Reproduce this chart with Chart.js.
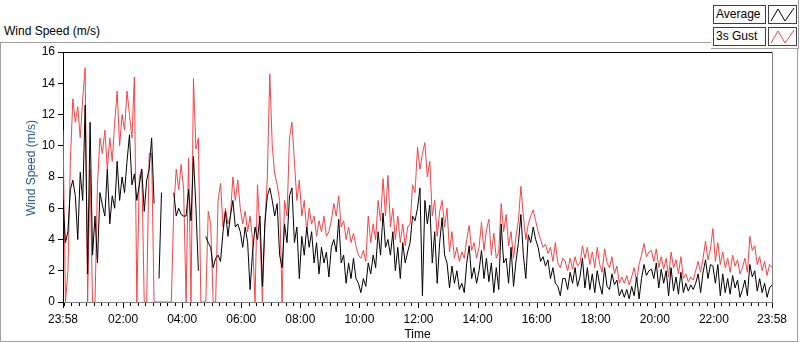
<!DOCTYPE html>
<html>
<head>
<meta charset="utf-8">
<script src="https://cdn.jsdelivr.net/npm/chart.js@4.4.0/dist/chart.umd.min.js"></script>
<style>
body { margin: 0; background: #fff; font-family: "Liberation Sans", Arial, sans-serif; }
#wrap { position: relative; width: 800px; height: 342px; overflow: hidden; }
#frame { position: absolute; left: 0; top: 42px; width: 798px; height: 300px; box-sizing: border-box; border: 1px solid #a0a0a0; }
#title { position: absolute; left: 4px; top: 24px; font-size: 12px; color: #000; }
#ytitle { position: absolute; left: 31px; top: 168px; font-size: 12px; color: #25588a; white-space: nowrap; transform: translate(-50%, -50%) rotate(-90deg); }
#legend { position: absolute; left: 711px; top: 0; width: 88px; height: 49px; box-sizing: border-box; background: #fff; border-right: 1px solid #a0a0a0; border-bottom: 1px solid #a0a0a0; }
.lbl { position: absolute; left: 2px; width: 53px; height: 19px; box-sizing: border-box; border: 1px solid #404040; font-size: 12px; line-height: 17px; padding-left: 2px; background: #fff; }
.ico { position: absolute; left: 57px; width: 29px; height: 19px; box-sizing: border-box; border: 1px solid #404040; background: #fff; }
canvas { position: absolute; left: 0; top: 0; }
</style>
</head>
<body>
<div id="wrap">
  <div id="frame"></div>
  <div id="title">Wind Speed (m/s)</div>
  <div id="legend">
    <div class="lbl" style="top:5px">Average</div>
    <div class="ico" style="top:5px"><svg width="27" height="17"><polyline points="2,15 9,3 16,15 25,2" fill="none" stroke="#000" stroke-width="1"/></svg></div>
    <div class="lbl" style="top:27px">3s Gust</div>
    <div class="ico" style="top:27px"><svg width="27" height="17"><polyline points="2,15 9,3 16,15 25,2" fill="none" stroke="#ff4040" stroke-width="1"/></svg></div>
  </div>
  <canvas id="chart" width="800" height="342"></canvas>
  <div id="ytitle">Wind Speed (m/s)</div>
</div>
<script>
// one sample every 5 minutes, starting 23:58
var sampleStep = 5
var startMinute = 23 * 60 + 58

// 3s gust (m/s), one row per hour
var gust = [
    11, 0, 2, 9, 13, 11.5, 12.5, 10.5, 13, 15, 0, 8.5,
    0, 0, 7.5, 10.5, 9.5, 11, 8.5, 10.5, 9, 11.5, 13.5, 10,
    12, 11, 13.5, 12, 10.5, 14.4, 0, 8, 8.5, 0, 0, 9.5,
    9.5, 0, 0, 0, 0, 0, 0, 0, 0, 6, 8.5, 7.2,
    8.8, 7.2, 0, 9.2, 0, 14.3, 9.8, 10.5, 0, 0, 0, 5.8,
    5, 0, 0, 6.5, 7.6, 4.8, 6, 5, 5.5, 8, 6.5, 7.8,
    6, 5, 5.8, 4.5, 5.5, 4, 0, 7.5, 4.5, 0, 5, 8,
    14.6, 10, 8.2, 7.5, 6.5, 0, 6.5, 5.5, 10.5, 11.5, 9, 6.5,
    7.8, 5.5, 6.5, 4.5, 6, 5, 5.5, 4.2, 5.2, 4.5, 5.5, 4.2,
    4.5, 5.2, 6.3, 5.5, 6.8, 4.8, 5.2, 4, 4.8, 3.8, 4.4, 3.6,
    3, 2.8, 3.3, 2.6, 5.5, 3.8, 5, 4, 6.5, 5.2, 7.9, 5.5,
    8.1, 4.8, 6, 4, 5.5, 3.8, 5, 3.6, 4.8, 5, 7.5, 7,
    9.9, 8.5, 9.5, 10.2, 8, 9, 5.5, 6.5, 4.2, 5.8, 6.5, 4.8,
    6, 3.2, 4.5, 2.8, 3.5, 2.6, 3.2, 2.8, 4, 4.9, 3.3, 3.8,
    2.8, 3.5, 5.1, 3.3, 4.6, 5.3, 3, 4.4, 2.8, 3.2, 6.3, 4.5,
    5.6, 3.6, 4.5, 2.8, 4.2, 5.2, 7.4, 5.5, 4, 5, 5.5, 5.9,
    5.2, 4.5, 4, 3.5, 3.7, 3.1, 3.5, 2.6, 3.8, 2.5, 2.2, 2.8,
    2.6, 2, 2.8, 2.1, 2.9, 2.3, 2.5, 3.6, 2.8, 3.5, 2.4, 3.2,
    2.2, 3.5, 2.4, 1.9, 3.4, 2.5, 2.2, 2.9, 1.8, 2.3, 1.2, 1.6,
    1.2, 1.7, 1.1, 1.6, 2.2, 1.3, 2.4, 3, 3.75, 2.9, 3.2, 3.3,
    2.6, 3.4, 2.2, 2.9, 2.1, 2.8, 1.6, 3.2, 2.2, 2.7, 1.8, 2.9,
    1.5, 1.8, 1.3, 1.6, 1.4, 2, 2.6, 1.9, 2.8, 3.9, 2.7, 3.4,
    4.7, 2.6, 3.8, 2.4, 3.2, 2.2, 2.8, 1.9, 3, 2.3, 2.7, 1.8,
    2.2, 2.8, 1.9, 4.2, 3.3, 3.6, 2.4, 2.9, 2, 2.6, 1.7, 2.4, 2.2
]

// average (m/s), null = no reading
var average = [
    6.5, 3.8, 4.5, 7.2, 7.8, 6.8, 4, 8.3, 6.5, 12.6, 1.8, 11.5,
    3, 5.5, 2.5, 7, 6.2, 5.5, 8.5, 5, 6.8, 6, 9, 6.5,
    8, 7, 9, 10.7, 7.5, 8.2, 6.5, 7.5, 8.5, 5.8, 7.8, 8.5,
    10.5, 6.3, null, 1.5, 7, null, null, null, null, 7, 5.5, 6,
    5.6, 5.5, 5.5, 7.2, 5.2, 9.3, 6, 2, null, null, 4.2, 3.8,
    3.5, 2.2, 2.8, 3, 2.6, 4.5, 5.8, 4.2, 5.5, 6.5, 4.8, 5,
    4.5, 3.5, 4.8, 3.8, 0.8, 3.2, 4.8, 4, 5.5, 1, 5, 6.8,
    7.3, 6.5, 5.5, 6.3, 3, 2.2, 5, 3.8, 6.8, 7.3, 3.8, 4.8,
    1.5, 4.2, 3, 4.8, 3.5, 4.5, 2.5, 3.8, 1.8, 3.5, 2.5, 3.2,
    1.6, 3.5, 4, 3.2, 5.3, 2.5, 3, 1.2, 2.5, 1.5, 2.8, 1.5,
    1.2, 0.6, 1.5, 1, 2.5, 1.8, 3, 2.2, 4.5, 3, 5.7, 3.5,
    4, 3, 4.5, 2, 3.5, 1.5, 3.8, 2.5, 3.2, 3.8, 5.5, 5.2,
    6, 7.3, 0.4, 6.5, 5, 6.2, 2.5, 4.5, 1.2, 3.8, 5.4, 3,
    2.5, 0.9, 2.3, 1.2, 2, 0.8, 1.2, 0.6, 2.5, 3.6, 1.5, 2.2,
    1.2, 2, 3.3, 1.5, 2.8, 1.3, 2.5, 0.6, 2.2, 0.8, 5, 2.5,
    2.8, 1.2, 3.5, 1, 2.6, 3.8, 5.6, 3, 1.5, 4.3, 3.8, 4.8,
    4, 3.5, 2.6, 2.9, 2.3, 2.7, 1.5, 2.2, 1.2, 1, 0.4, 1.5,
    1.5, 0.8, 1.9, 1.2, 2.2, 1, 1.6, 2.8, 0.9, 2.2, 0.8, 1.8,
    0.6, 2, 1.1, 0.5, 2.2, 1, 0.8, 1.8, 1.1, 1.4, 0.4, 0.8,
    0.3, 0.8, 0.2, 1, 0.4, 1.6, 0.2, 1.5, 2.4, 1.7, 2, 2.1,
    1.5, 2.5, 0.9, 2.1, 1.2, 2, 0.4, 2.2, 0.7, 1.6, 0.5, 1.9,
    0.6, 1.2, 0.7, 1.1, 0.8, 1.2, 1.8, 0.6, 1.9, 2.7, 1.5, 2.4,
    2.3, 1.2, 2.4, 0.4, 1.8, 0.6, 1.5, 0.5, 1.7, 0.9, 1.4, 0.3,
    0.8, 1.4, 0.4, 2.4, 1.6, 2, 0.7, 1.5, 0.6, 1.2, 0.3, 0.9, 1.1
]

// labelled ticks, minutes after 23:58
var tickMinutes = [0, 122, 242, 362, 482, 602, 722, 842, 962, 1082, 1202, 1322, 1440]
var minorStep = 15
var yTicks = [0, 2, 4, 6, 8, 10, 12, 14, 16]

function to_points(arr) {
    return arr.map(function(v, i) {
        return { x: i * sampleStep, y: v }
    })
}

function time_label(m) {
    var t = (startMinute + m) % 1440
    var h = Math.floor(t / 60)
    var mm = t % 60
    return (h < 10 ? '0' : '') + h + ':' + (mm < 10 ? '0' : '') + mm
}

var frameLines = {
    id: 'frameLines',
    afterDraw: function(chart) {
        var ctx = chart.ctx
        var a = chart.chartArea
        var xs = chart.scales.x
        ctx.save()
        ctx.lineWidth = 1
        ctx.strokeStyle = '#000'
        ctx.beginPath()
        ctx.moveTo(a.left, Math.round(a.top) + 0.5)
        ctx.lineTo(a.right, Math.round(a.top) + 0.5)
        ctx.stroke()
        ctx.strokeStyle = '#808080'
        ctx.beginPath()
        ctx.moveTo(Math.round(a.right) + 0.5, a.top)
        ctx.lineTo(Math.round(a.right) + 0.5, a.bottom + 1)
        ctx.stroke()

        // x tick marks: minor every 15 min, major at labels
        ctx.strokeStyle = '#000'
        ctx.beginPath()
        var y0 = Math.round(a.bottom) + 1
        for (var m = 2; m < 1440; m += minorStep) {
            var px = Math.round(xs.getPixelForValue(m)) + 0.5
            ctx.moveTo(px, y0)
            ctx.lineTo(px, y0 + 3)
        }
        tickMinutes.forEach(function(m) {
            var px = Math.round(xs.getPixelForValue(m)) + 0.5
            ctx.moveTo(px, y0)
            ctx.lineTo(px, y0 + 5)
        })
        ctx.stroke()
        ctx.restore()
    }
}

Chart.defaults.font.family = '"Liberation Sans", Arial, sans-serif'
Chart.defaults.font.size = 12
Chart.defaults.color = '#000'

new Chart(document.getElementById('chart'), {
    type: 'line',
    data: {
        datasets: [{
            label: 'Average',
            data: to_points(average),
            borderColor: '#000',
            borderWidth: 1,
            pointRadius: 0,
            borderJoinStyle: 'bevel',
            spanGaps: false,
            tension: 0
        }, {
            label: '3s Gust',
            data: to_points(gust),
            borderColor: '#ff4040',
            borderWidth: 1,
            pointRadius: 0,
            borderJoinStyle: 'bevel',
            spanGaps: false,
            tension: 0
        }]
    },
    options: {
        responsive: false,
        animation: false,
        devicePixelRatio: 1,
        layout: { padding: { left: 0, top: 52, right: 28, bottom: 0 } },
        plugins: { legend: { display: false }, tooltip: { enabled: false } },
        scales: {
            x: {
                type: 'linear',
                min: 0,
                max: 1440,
                afterBuildTicks: function(scale) {
                    scale.ticks = tickMinutes.map(function(v) { return { value: v } })
                },
                afterFit: function(scale) { scale.height = 40 },
                ticks: {
                    autoSkip: false,
                    maxRotation: 0,
                    padding: 2,
                    font: { size: 12 },
                    callback: function(v) { return time_label(v) }
                },
                grid: { display: false },
                border: { display: true, color: '#808080', width: 1 },
                title: { display: true, text: 'Time', padding: { top: 1, bottom: 0 }, font: { size: 12 } }
            },
            y: {
                min: 0,
                max: 16,
                afterBuildTicks: function(scale) {
                    scale.ticks = yTicks.map(function(v) { return { value: v } })
                },
                afterFit: function(scale) { scale.width = 63 },
                ticks: { padding: 3, font: { size: 12 } },
                grid: { drawOnChartArea: false, tickLength: 5, color: '#000' },
                border: { display: true, color: '#000', width: 1 },
                title: { display: false }
            }
        }
    },
    plugins: [frameLines]
})
</script>
</body>
</html>
